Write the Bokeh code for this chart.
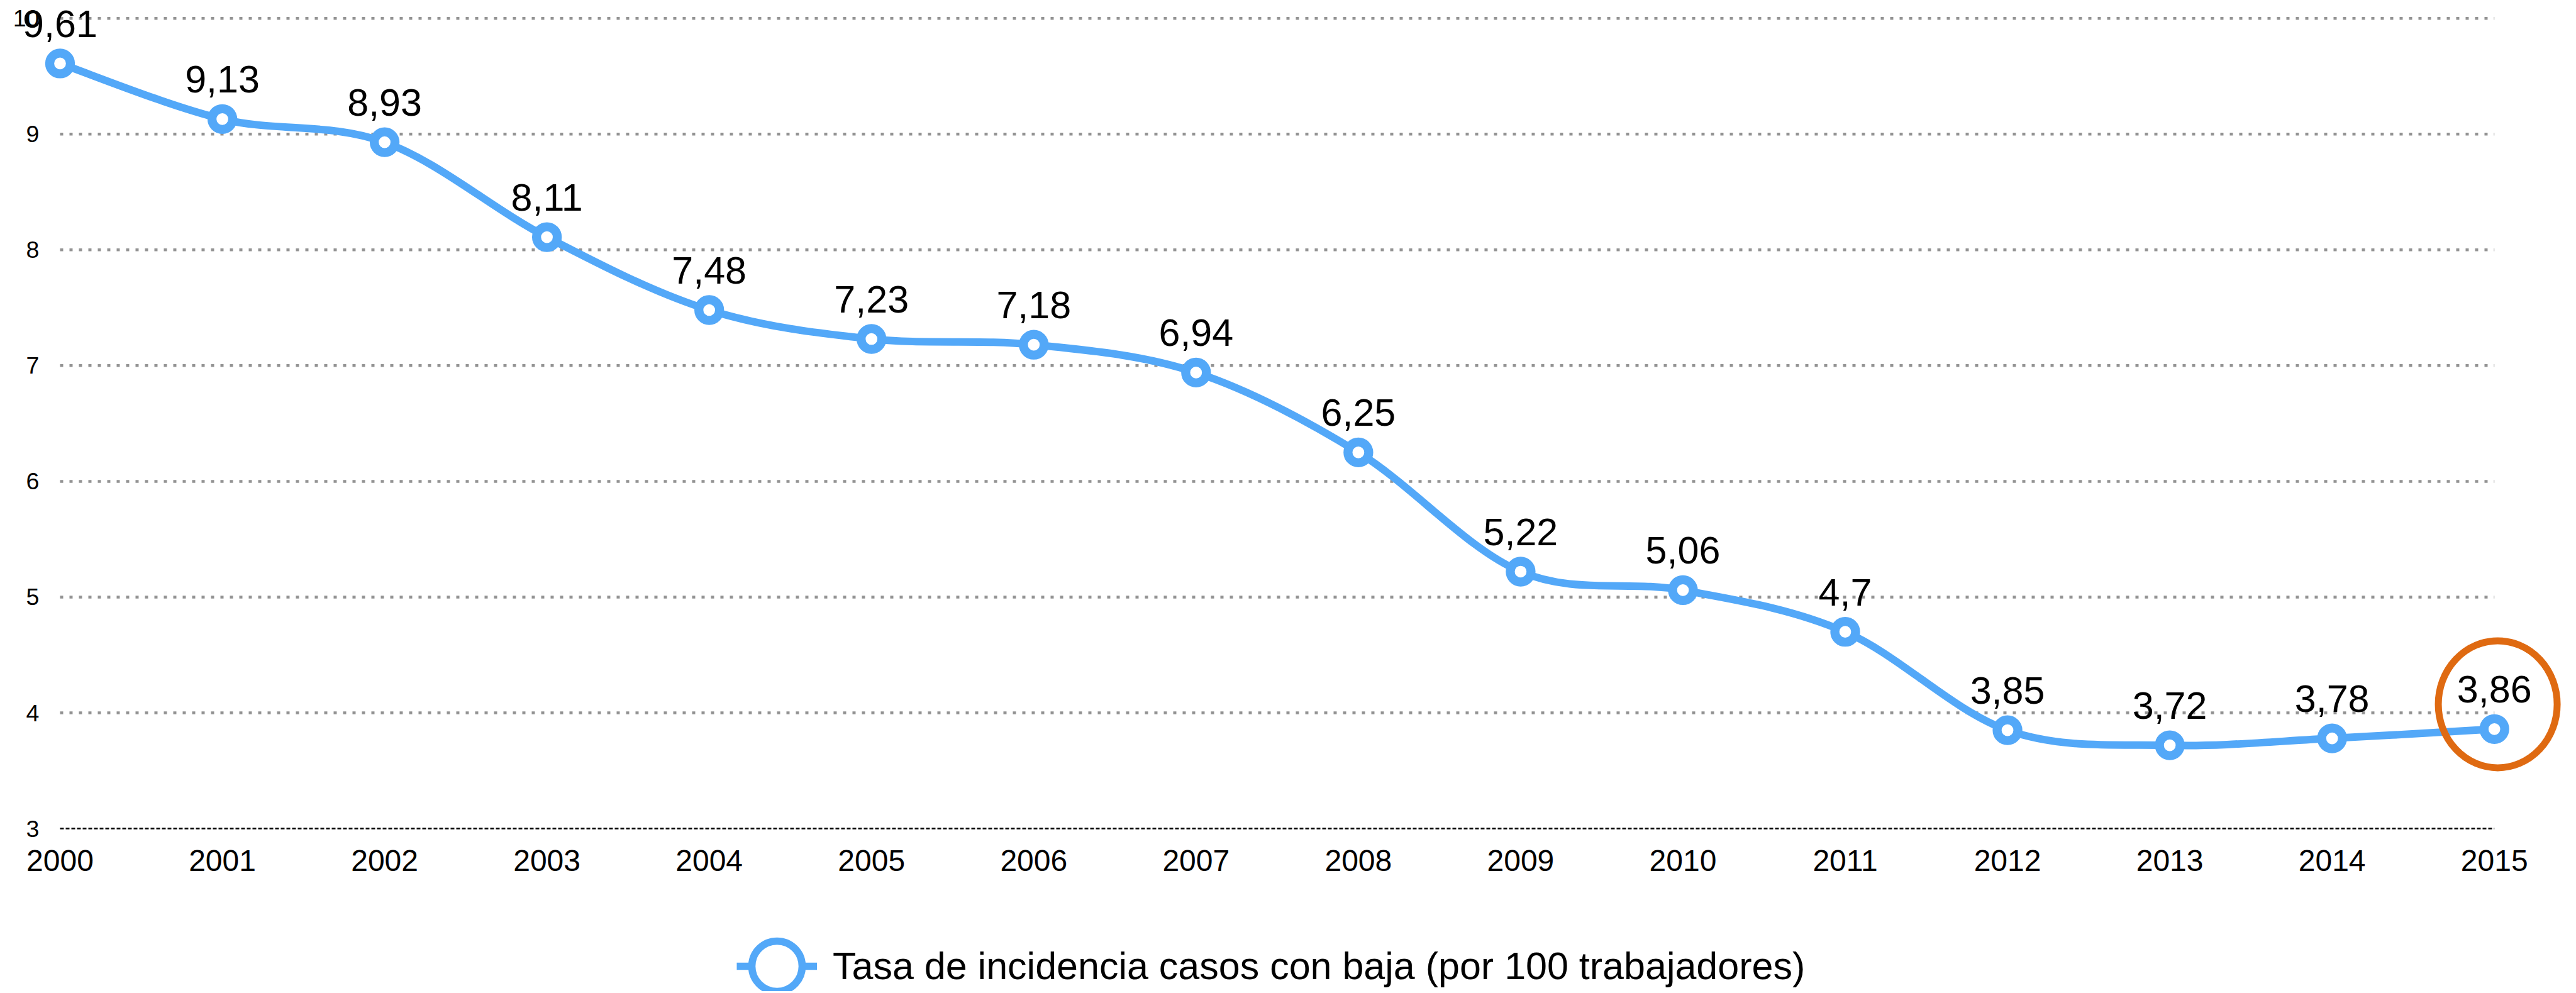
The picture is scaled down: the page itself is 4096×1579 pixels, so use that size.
import numpy as np
from bokeh.plotting import figure
from bokeh.models import Range1d, Legend, LegendItem, ColumnDataSource
from bokeh.core.properties import value
from bokeh.embed import file_html
from bokeh.resources import INLINE

# ---------------- data ----------------
years = [2000, 2001, 2002, 2003, 2004, 2005, 2006, 2007,
         2008, 2009, 2010, 2011, 2012, 2013, 2014, 2015]
tasa = [9.61, 9.13, 8.93, 8.11, 7.48, 7.23, 7.18, 6.94,
        6.25, 5.22, 5.06, 4.7, 3.85, 3.72, 3.78, 3.86]
y_ticks = [3, 4, 5, 6, 7, 8, 9, 10]
x_tick_labels = [str(y) for y in years]
series_name = "Tasa de incidencia casos con baja (por 100 trabajadores)"
highlight_index = 15   # 2015 is circled

# ---------------- style ----------------
FONT = "Liberation Sans"
BLUE = "#53A8F8"
ORANGE = "#DF6A12"
GRID = "#939393"
W, H = 4090, 1576

# pixel layout of the frame (figure covers the whole canvas)
X0_PX, X1_PX = 94.98, 3965.7      # px of first / last year
Y10_PX, Y3_PX = 28.67, 1317.1     # px of value 10 / value 3
ppx = (X1_PX - X0_PX) / (years[-1] - years[0])
ppy = (Y3_PX - Y10_PX) / (y_ticks[-1] - y_ticks[0])
x_start = years[0] - X0_PX / ppx
x_end = years[-1] + (W - X1_PX) / ppx
y_top = y_ticks[-1] + Y10_PX / ppy
y_bot = y_ticks[0] - (H - Y3_PX) / ppy

p = figure(width=W, height=H, output_backend="svg", toolbar_location=None,
           x_range=Range1d(x_start, x_end), y_range=Range1d(y_bot, y_top),
           min_border=0, min_border_left=0, min_border_right=0,
           min_border_top=0, min_border_bottom=0)
p.xaxis.visible = False
p.yaxis.visible = False
p.xgrid.visible = False
p.ygrid.visible = False
p.outline_line_color = None
p.background_fill_color = "white"
p.border_fill_color = "white"

# ---------------- grid lines ----------------
gy = [t for t in y_ticks if t != y_ticks[0]]
p.segment(x0=[years[0]] * len(gy), y0=gy, x1=[years[-1]] * len(gy), y1=gy,
          line_color=GRID, line_width=4.5, line_dash="5 10")
p.segment(x0=[years[0]], y0=[y_ticks[0]], x1=[years[-1]], y1=[y_ticks[0]],
          line_color="black", line_width=2.5, line_dash="6 3")

# ---------------- tick labels ----------------
p.text(x=[years[0]] * len(y_ticks), y=y_ticks, text=[str(t) for t in y_ticks],
       x_offset=-33, y_offset=0, text_align="right", text_baseline="alphabetic",
       text_font=value(FONT), text_font_size="37.5px", text_color="black")
p.text(x=years, y=[y_ticks[0]] * len(years), text=x_tick_labels,
       y_offset=51, text_align="center", text_baseline="alphabetic",
       text_font=value(FONT), text_font_size="48px", text_color="black")

# ---------------- smoothed line (Catmull-Rom as cubic Beziers) ----------------
xs = np.array(years, dtype=float)
ys = np.array(tasa, dtype=float)
xp = np.concatenate([[xs[0]], xs, [xs[-1]]])
yp = np.concatenate([[ys[0]], ys, [ys[-1]]])
n = len(xs)
cx0 = xs[:-1] + (xp[2:n + 1] - xp[0:n - 1]) / 6.0
cy0 = ys[:-1] + (yp[2:n + 1] - yp[0:n - 1]) / 6.0
cx1 = xs[1:] - (xp[3:n + 2] - xp[1:n]) / 6.0
cy1 = ys[1:] - (yp[3:n + 2] - yp[1:n]) / 6.0
p.bezier(x0=xs[:-1], y0=ys[:-1], x1=xs[1:], y1=ys[1:],
         cx0=cx0, cy0=cy0, cx1=cx1, cy1=cy1,
         line_color=BLUE, line_width=12, line_cap="round")

src = ColumnDataSource(dict(x=years, y=tasa,
                            lab=[str(v).replace(".", ",") for v in tasa]))
p.scatter("x", "y", source=src, marker="circle", size=33,
          fill_color="white", line_color=BLUE, line_width=14.3)

# ---------------- value labels ----------------
p.text("x", "y", text="lab", source=src, y_offset=-63,
       text_align="center", text_baseline="alphabetic",
       text_font=value(FONT), text_font_size="61px", text_color="black")

# ---------------- highlight circle ----------------
hx = years[highlight_index] + 6 * 0.896 / ppx
hy = tasa[highlight_index] + 44 * 0.896 / ppy
p.ellipse(x=[hx], y=[hy], width=189, height=202,
          width_units="screen", height_units="screen",
          fill_color=None, line_color=ORANGE, line_width=11)
p.ellipse(x=[hx], y=[hy], width=193, height=198,
          width_units="screen", height_units="screen",
          fill_color=None, line_color=ORANGE, line_width=5, line_alpha=0.8)

# ---------------- legend ----------------
leg_line = p.line(x=[np.nan], y=[np.nan], line_color=BLUE, line_width=11.6)
leg_ring = p.ellipse(x=[np.nan], y=[np.nan], width=80, height=80,
                     width_units="screen", height_units="screen",
                     fill_color="white", line_color=BLUE, line_width=11.6)
legend = Legend(items=[LegendItem(label=series_name, renderers=[leg_line, leg_ring])],
                location=(1171, -10), orientation="horizontal",
                glyph_width=128, glyph_height=100, label_standoff=25,
                padding=0, margin=0, spacing=0,
                border_line_alpha=0, background_fill_alpha=0,
                label_text_font=FONT, label_text_font_size="61px",
                label_text_color="black")
p.add_layout(legend)

open("out.html", "w").write(file_html(p, INLINE))
